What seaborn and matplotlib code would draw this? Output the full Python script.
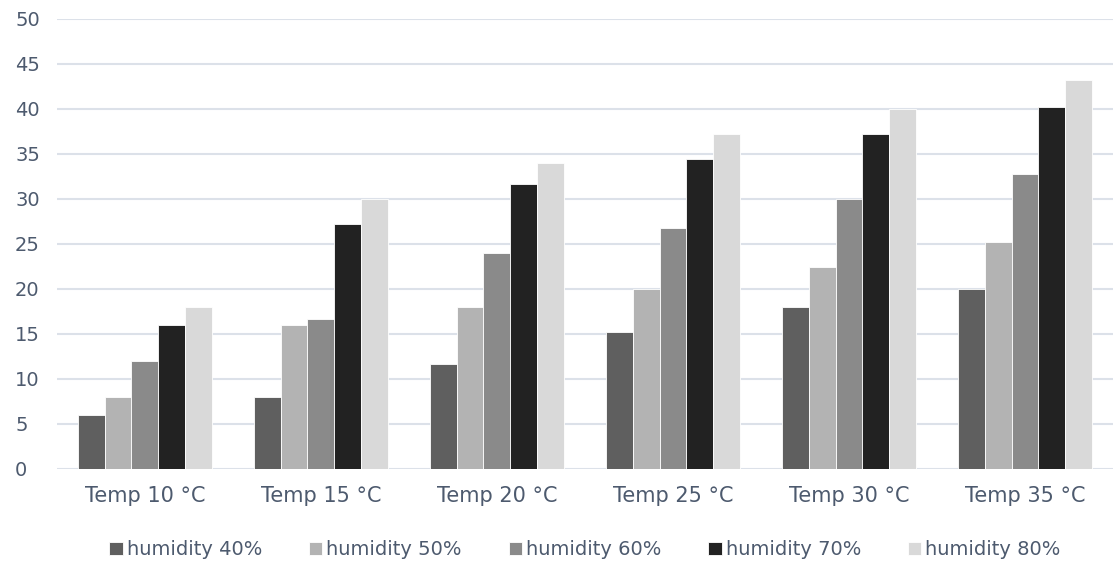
import numpy as np
import pandas as pd
import matplotlib
matplotlib.use("Agg")
import matplotlib.pyplot as plt
import seaborn as sns

# data
temps = ["Temp 10 °C", "Temp 15 °C", "Temp 20 °C", "Temp 25 °C", "Temp 30 °C", "Temp 35 °C"]
series = ["humidity 40%", "humidity 50%", "humidity 60%", "humidity 70%", "humidity 80%"]
hum40 = [6, 8, 11.6, 15.2, 18, 20]
hum50 = [8, 16, 18, 20, 22.4, 25.2]
hum60 = [12, 16.7, 24, 26.8, 30, 32.8]
hum70 = [16, 27.2, 31.6, 34.4, 37.2, 40.2]
hum80 = [18, 30, 34, 37.2, 40, 43.2]
colors = ["#5f5f5f", "#b3b3b3", "#8a8a8a", "#222222", "#d9d9d9"]

# long form table for seaborn
rows = []
for name, vals in zip(series, [hum40, hum50, hum60, hum70, hum80]):
    for t, v in zip(temps, vals):
        rows.append({"temp": t, "series": name, "value": v})
df = pd.DataFrame(rows)

sns.set_theme(style="white")
plt.rcParams["font.family"] = ["DejaVu Sans"]
txt = "#4d5a6e"

fig = plt.figure(figsize=(11.13, 5.69), dpi=100)
ax = fig.add_axes([0.051, 0.176, 0.949, 0.791])

sns.barplot(data=df, x="temp", y="value", hue="series", palette=colors,
            width=0.76, gap=0, ax=ax, saturation=1, legend=True,
            edgecolor="white", linewidth=0.6)

ax.set_ylim(0, 50)
ax.set_xlim(-0.5, 5.5)
ax.set_yticks(np.arange(0, 51, 5))
ax.yaxis.grid(True, color="#dce1e9", linewidth=1.5)
ax.set_axisbelow(True)
for s in ax.spines.values():
    s.set_visible(False)
ax.set_xlabel("")
ax.set_ylabel("")
ax.tick_params(axis="y", length=0, labelsize=14, labelcolor=txt, pad=30)
ax.tick_params(axis="x", length=0, labelsize=15, labelcolor=txt, pad=12)
for lbl in ax.get_yticklabels():
    lbl.set_horizontalalignment("left")

ax.legend(loc="upper center", bbox_to_anchor=(0.5, -0.12), ncol=5, frameon=False,
          fontsize=14, labelcolor=txt, handlelength=0.7, handleheight=0.7,
          handletextpad=0.2, columnspacing=2.4)

fig.savefig("out.png", dpi=100)
